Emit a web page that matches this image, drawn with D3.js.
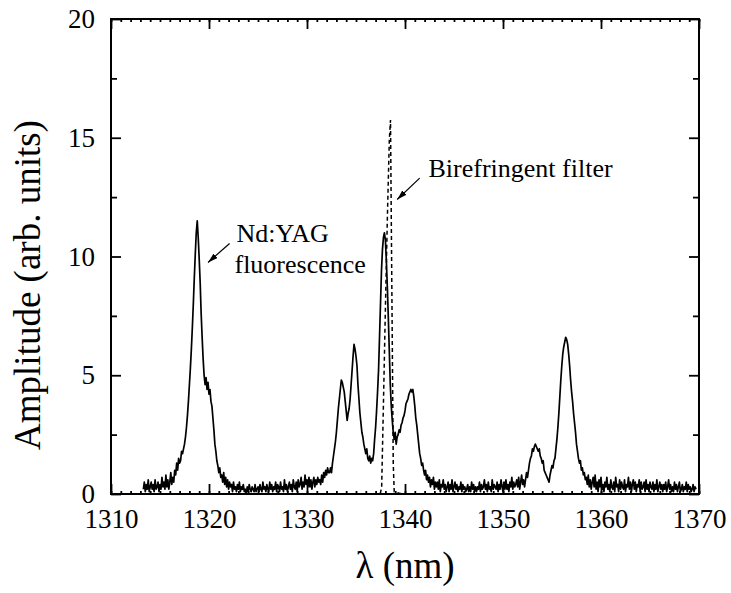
<!DOCTYPE html>
<html>
<head>
<meta charset="utf-8">
<script src="https://cdn.jsdelivr.net/npm/d3@7"></script>
<style>
body { margin: 0; background: #fff; }
svg { display: block; }
</style>
</head>
<body>
<svg id="chart"></svg>
<script>
// fluorescence spectrum, sampled every 0.1 nm from 1313.3 nm
var fluorStart = 1313.3, fluorStep = 0.1;
var fluorAmp = [
    0.2,0.5,0.1,0.4,0.2,0.6,0.1,0.3,0.5,0.2, // 1313.3
    0.4,0.1,0.6,0.2,0.3,0.5,0.1,0.4,0.2,0.7, // 1314.3
    0.3,0.5,0.2,0.8,0.3,0.6,0.2,0.5,0.9,0.4, // 1315.3
    0.7,0.5,1.0,0.8,1.3,1.0,1.5,1.3,1.4,1.8, // 1316.3
    1.7,1.9,2.1,2.4,2.8,3.3,3.9,4.6,5.3,6.1, // 1317.3
    7.0,8.0,9.1,10.1,11.0,11.5,10.8,9.9,8.9,7.6, // 1318.3
    6.6,5.7,5.0,4.6,4.9,4.4,4.7,4.2,4.4,3.9, // 1319.3
    3.7,3.2,2.7,2.1,1.8,1.4,1.2,0.9,1.1,0.7, // 1320.3
    0.8,0.5,0.9,0.4,0.7,0.3,0.6,0.2,0.5,0.3, // 1321.3
    0.4,0.1,0.5,0.2,0.3,0.1,0.4,0.2,0.5,0.1, // 1322.3
    0.3,0.2,0.4,0.1,0.2,0.0,0.3,0.1,0.4,0.2, // 1323.3
    0.1,0.3,0.2,0.1,0.4,0.1,0.2,0.3,0.1,0.4, // 1324.3
    0.2,0.1,0.5,0.2,0.3,0.1,0.4,0.2,0.1,0.5, // 1325.3
    0.2,0.4,0.1,0.3,0.2,0.5,0.1,0.4,0.3,0.1, // 1326.3
    0.5,0.2,0.3,0.1,0.6,0.2,0.4,0.1,0.3,0.5, // 1327.3
    0.2,0.4,0.1,0.6,0.3,0.2,0.5,0.1,0.6,0.3, // 1328.3
    0.4,0.7,0.2,0.5,0.3,0.8,0.4,0.6,0.3,0.7, // 1329.3
    0.3,0.6,0.2,0.5,0.7,0.3,0.6,0.4,0.7,0.5, // 1330.3
    0.6,0.4,0.8,0.5,0.9,0.7,1.0,0.8,1.1,0.9, // 1331.3
    0.9,1.1,0.9,1.3,1.6,1.9,2.2,2.6,3.1,3.6, // 1332.3
    4.0,4.4,4.8,4.7,4.5,4.3,3.9,3.5,3.1,3.4, // 1333.3
    3.6,4.0,4.6,5.2,5.8,6.3,6.1,5.8,5.4,4.6, // 1334.3
    4.0,3.4,3.0,2.6,2.4,2.1,1.9,1.7,1.9,1.5, // 1335.3
    1.4,1.6,1.3,1.5,1.4,1.7,2.3,2.8,3.5,4.3, // 1336.3
    5.2,6.6,8.0,9.4,10.3,10.8,11.0,10.7,9.8,8.7, // 1337.3
    7.4,6.0,4.6,3.7,3.1,2.6,2.3,2.6,2.1,2.4, // 1338.3
    2.5,2.7,2.6,2.9,3.0,3.2,3.3,3.5,3.8,3.9, // 1339.3
    4.0,4.2,4.3,4.4,4.3,4.4,4.1,3.7,3.2,2.9, // 1340.3
    2.5,2.1,1.7,1.5,1.2,1.3,1.0,0.8,1.0,0.6, // 1341.3
    0.8,0.5,0.7,0.3,0.6,0.4,0.7,0.2,0.5,0.3, // 1342.3
    0.5,0.2,0.6,0.1,0.4,0.3,0.6,0.2,0.4,0.1, // 1343.3
    0.3,0.5,0.1,0.4,0.2,0.6,0.1,0.3,0.5,0.2, // 1344.3
    0.4,0.1,0.3,0.2,0.5,0.1,0.4,0.2,0.3,0.1, // 1345.3
    0.2,0.4,0.1,0.3,0.1,0.5,0.2,0.4,0.1,0.3, // 1346.3
    0.1,0.3,0.2,0.5,0.1,0.4,0.2,0.3,0.6,0.2, // 1347.3
    0.4,0.1,0.5,0.2,0.3,0.1,0.6,0.2,0.4,0.3, // 1348.3
    0.2,0.5,0.1,0.4,0.2,0.6,0.3,0.1,0.5,0.2, // 1349.3
    0.6,0.2,0.4,0.1,0.5,0.3,0.7,0.2,0.5,0.3, // 1350.3
    0.4,0.6,0.3,0.7,0.2,0.5,0.8,0.4,0.6,0.3, // 1351.3
    0.6,0.9,0.7,1.0,1.3,1.5,1.6,1.9,1.8,2.0, // 1352.3
    2.1,2.0,1.9,1.8,1.9,1.6,1.5,1.3,1.4,1.0, // 1353.3
    0.9,0.8,0.7,0.6,0.5,0.8,1.0,1.2,1.1,1.4, // 1354.3
    1.5,1.9,2.3,2.8,3.4,4.1,4.8,5.4,5.9,6.2, // 1355.3
    6.4,6.6,6.5,6.3,5.9,5.4,4.8,4.3,3.9,3.4, // 1356.3
    3.0,2.6,2.1,1.8,1.5,1.3,1.4,1.0,1.1,0.8, // 1357.3
    0.9,0.6,0.7,0.4,0.8,0.3,0.6,0.2,0.5,0.7, // 1358.3
    0.3,0.8,0.2,0.5,0.1,0.6,0.3,0.7,0.2,0.4, // 1359.3
    0.1,0.5,0.3,0.7,0.2,0.4,0.1,0.6,0.3,0.2, // 1360.3
    0.5,0.1,0.7,0.3,0.4,0.1,0.6,0.2,0.5,0.3, // 1361.3
    0.2,0.6,0.1,0.4,0.3,0.7,0.2,0.5,0.1,0.4, // 1362.3
    0.6,0.2,0.5,0.1,0.4,0.3,0.6,0.1,0.5,0.2, // 1363.3
    0.3,0.5,0.1,0.6,0.2,0.4,0.1,0.5,0.3,0.2, // 1364.3
    0.5,0.1,0.4,0.2,0.6,0.1,0.3,0.5,0.2,0.4, // 1365.3
    0.1,0.4,0.2,0.5,0.1,0.3,0.6,0.2,0.4,0.1, // 1366.3
    0.3,0.1,0.5,0.2,0.4,0.1,0.3,0.5,0.1,0.2, // 1367.3
    0.4,0.1,0.3,0.2,0.5,0.1,0.4,0.2,0.3,0.1, // 1368.3
    0.2,0.4,0.1,0.3,0.2                      // 1369.3
];

// birefringent filter transmission (dashed)
var filterLambda = [1336.0, 1337.0, 1337.5, 1337.62, 1337.8, 1338.0, 1338.2, 1338.4, 1338.52, 1338.6, 1338.7, 1338.8, 1338.9, 1339.5, 1341.0];
var filterAmp    = [0.0,    0.0,    0.05,   0.3,     3.8,    7.8,    11.6,   14.9,   15.75,   11.6,   6.5,    1.3,    0.1,    0.02,   0.0];

var xTicks = [1310, 1320, 1330, 1340, 1350, 1360, 1370];
var yTicks = [0, 5, 10, 15, 20];
var xMinor = d3.range(1310, 1371, 1);
var yMinor = [2.5, 7.5, 12.5, 17.5];

var serif = '"Liberation Serif"';
var width = 731, height = 593;
var svg = d3.select("#chart")
    .attr("width", width)
    .attr("height", height);

var x = d3.scaleLinear().domain([1310, 1370]).range([111, 699]);
var y = d3.scaleLinear().domain([0, 20]).range([494, 19]);

var fluorData = fluorAmp.map((a, i) => [+(fluorStart + i * fluorStep).toFixed(2), a]);
var filterData = filterLambda.map((l, i) => [l, filterAmp[i]]);

var line = d3.line()
    .x(d => x(d[0]))
    .y(d => y(d[1]));

svg.append("path")
    .datum(filterData)
    .attr("d", line)
    .attr("fill", "none")
    .attr("stroke", "#000")
    .attr("stroke-width", 1.5)
    .attr("stroke-dasharray", "4,3");

svg.append("path")
    .datum(fluorData)
    .attr("d", line)
    .attr("fill", "none")
    .attr("stroke", "#000")
    .attr("stroke-width", 1.7)
    .attr("stroke-linejoin", "round");

// axes, ticks pointing inwards
function styleAxis(g) {
    g.attr("font-family", null).attr("font-size", null);
    g.select(".domain").remove();
    g.selectAll(".tick line").attr("stroke", "#000").attr("stroke-width", 1.8);
    g.selectAll("text").attr("fill", "#000").attr("font-family", serif).attr("font-size", 27);
}

svg.append("g").attr("transform", "translate(0,494)")
    .call(d3.axisBottom(x).tickValues(xTicks).tickSize(-10).tickPadding(15).tickFormat(d3.format("d")))
    .call(styleAxis);
svg.append("g").attr("transform", "translate(0,494)")
    .call(d3.axisBottom(x).tickValues(xMinor).tickSize(-3).tickFormat(""))
    .call(styleAxis);
svg.append("g").attr("transform", "translate(0,19)")
    .call(d3.axisTop(x).tickValues(xTicks).tickSize(-10).tickFormat(""))
    .call(styleAxis);
svg.append("g").attr("transform", "translate(0,19)")
    .call(d3.axisTop(x).tickValues(xMinor).tickSize(-3).tickFormat(""))
    .call(styleAxis);

svg.append("g").attr("transform", "translate(111,0)")
    .call(d3.axisLeft(y).tickValues(yTicks).tickSize(-10).tickPadding(16))
    .call(styleAxis);
svg.append("g").attr("transform", "translate(111,0)")
    .call(d3.axisLeft(y).tickValues(yMinor).tickSize(-6).tickFormat(""))
    .call(styleAxis);
svg.append("g").attr("transform", "translate(699,0)")
    .call(d3.axisRight(y).tickValues(yTicks).tickSize(-10).tickFormat(""))
    .call(styleAxis);
svg.append("g").attr("transform", "translate(699,0)")
    .call(d3.axisRight(y).tickValues(yMinor).tickSize(-6).tickFormat(""))
    .call(styleAxis);

// frame
svg.append("rect")
    .attr("x", x(1310)).attr("y", y(20))
    .attr("width", x(1370) - x(1310)).attr("height", y(0) - y(20))
    .attr("fill", "none").attr("stroke", "#000").attr("stroke-width", 2);

// axis titles
svg.append("text")
    .attr("x", (x(1310) + x(1370)) / 2).attr("y", 578)
    .attr("text-anchor", "middle")
    .attr("font-family", serif).attr("font-size", 37)
    .text("λ (nm)");

svg.append("text")
    .attr("transform", "translate(40,285) rotate(-90)")
    .attr("text-anchor", "middle")
    .attr("font-family", serif).attr("font-size", 37)
    .text("Amplitude (arb. units)");

// annotations
svg.append("defs").append("marker")
    .attr("id", "head")
    .attr("viewBox", "0 0 10 6")
    .attr("refX", 10).attr("refY", 3)
    .attr("markerWidth", 10).attr("markerHeight", 6)
    .attr("markerUnits", "userSpaceOnUse")
    .attr("orient", "auto")
    .append("path").attr("d", "M0,0L10,3L0,6Z").attr("fill", "#000");

function arrow(x1, y1, x2, y2) {
    svg.append("line")
        .attr("x1", x(x1)).attr("y1", y(y1))
        .attr("x2", x(x2)).attr("y2", y(y2))
        .attr("stroke", "#000").attr("stroke-width", 1.2)
        .attr("marker-end", "url(#head)");
}
arrow(1322.1, 10.55, 1319.9, 9.75);
arrow(1341.5, 13.3, 1339.2, 12.4);

function label(lx, ly, s) {
    svg.append("text").attr("x", x(lx)).attr("y", y(ly))
        .attr("font-family", serif).attr("font-size", 26)
        .text(s);
}
label(1322.8, 10.6, "Nd:YAG");
label(1322.6, 9.3, "fluorescence");
label(1342.4, 13.35, "Birefringent filter");
</script>
</body>
</html>
